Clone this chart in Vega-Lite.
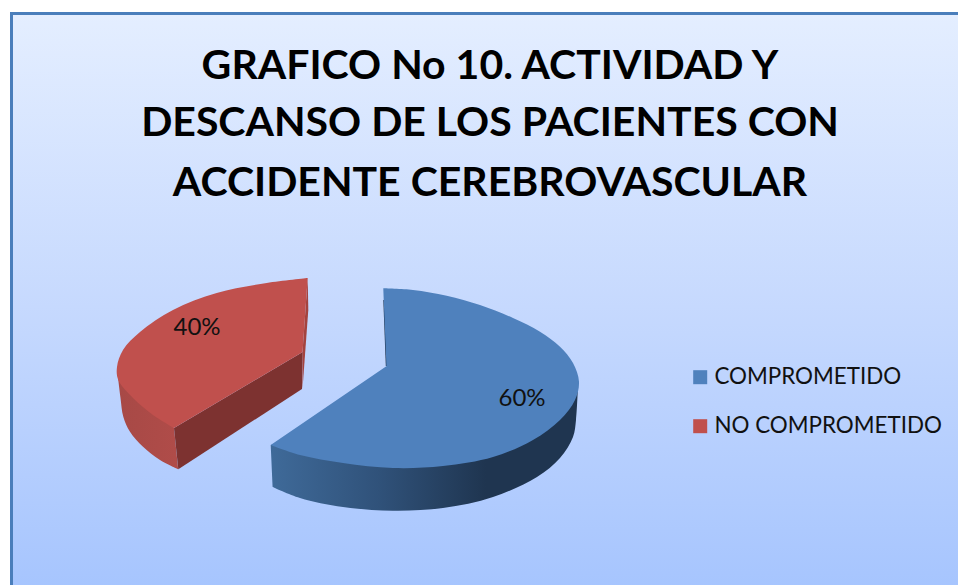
{
"$schema":"https://vega.github.io/schema/vega-lite/v6.json",
"width":958,"height":585,"padding":0,
"autosize":{"type":"fit","contains":"padding"},
"background":"white",
"view":{"stroke":null},
"datasets":{
"marco":[{"x":11.5,"x2":975,"y":13.5,"y2":600}],
"lados":[
{"parte":"rojo_lado","orden":1,"x":117,"y":367},{"parte":"rojo_lado","orden":2,"x":117,"y":367},{"parte":"rojo_lado","orden":3,"x":118.3,"y":380},{"parte":"rojo_lado","orden":4,"x":120.5,"y":398},{"parte":"rojo_lado","orden":5,"x":123.3,"y":416.7},{"parte":"rojo_lado","orden":6,"x":130,"y":431.7},{"parte":"rojo_lado","orden":7,"x":143,"y":446.7},{"parte":"rojo_lado","orden":8,"x":160,"y":460},{"parte":"rojo_lado","orden":9,"x":178.3,"y":469.3},{"parte":"rojo_lado","orden":10,"x":178.3,"y":469.3},{"parte":"rojo_lado","orden":11,"x":174,"y":428},{"parte":"rojo_lado","orden":12,"x":174,"y":428},
{"parte":"azul_lado","orden":1,"x":270.7,"y":445},{"parte":"azul_lado","orden":2,"x":270.7,"y":445},{"parte":"azul_lado","orden":3,"x":272.7,"y":487},{"parte":"azul_lado","orden":4,"x":272.7,"y":487},{"parte":"azul_lado","orden":5,"x":300,"y":498},{"parte":"azul_lado","orden":6,"x":343,"y":507},{"parte":"azul_lado","orden":7,"x":393,"y":510.7},{"parte":"azul_lado","orden":8,"x":443,"y":508},{"parte":"azul_lado","orden":9,"x":493,"y":497},{"parte":"azul_lado","orden":10,"x":537,"y":477},{"parte":"azul_lado","orden":11,"x":560,"y":458},{"parte":"azul_lado","orden":12,"x":573,"y":437},{"parte":"azul_lado","orden":13,"x":576,"y":420},{"parte":"azul_lado","orden":14,"x":578,"y":385},{"parte":"azul_lado","orden":15,"x":578,"y":385}
],
"corte":[
{"parte":"rojo_corte","orden":1,"x":174,"y":428},{"parte":"rojo_corte","orden":2,"x":302.7,"y":352},{"parte":"rojo_corte","orden":3,"x":302,"y":389},{"parte":"rojo_corte","orden":4,"x":178.3,"y":469.3}
],
"sliverRojo":[
{"parte":"rojo_borde","orden":1,"x":307.7,"y":278},{"parte":"rojo_borde","orden":2,"x":308.3,"y":310},{"parte":"rojo_borde","orden":3,"x":302.5,"y":389},{"parte":"rojo_borde","orden":4,"x":302.5,"y":352}
],
"sliverAzul":[
{"parte":"azul_borde","orden":1,"x":383.3,"y":300},{"parte":"azul_borde","orden":2,"x":385.5,"y":300},{"parte":"azul_borde","orden":3,"x":388.5,"y":366},{"parte":"azul_borde","orden":4,"x":385.8,"y":366}
],
"caras":[
{"categoria":"NO COMPROMETIDO","orden":1,"x":302.7,"y":352},{"categoria":"NO COMPROMETIDO","orden":2,"x":302.7,"y":352},{"categoria":"NO COMPROMETIDO","orden":3,"x":307.7,"y":278},{"categoria":"NO COMPROMETIDO","orden":4,"x":307.7,"y":278},{"categoria":"NO COMPROMETIDO","orden":5,"x":266.7,"y":283},{"categoria":"NO COMPROMETIDO","orden":6,"x":216.7,"y":293},{"categoria":"NO COMPROMETIDO","orden":7,"x":173,"y":310},{"categoria":"NO COMPROMETIDO","orden":8,"x":140,"y":332},{"categoria":"NO COMPROMETIDO","orden":9,"x":123,"y":350},{"categoria":"NO COMPROMETIDO","orden":10,"x":117,"y":367},{"categoria":"NO COMPROMETIDO","orden":11,"x":118.3,"y":380},{"categoria":"NO COMPROMETIDO","orden":12,"x":133,"y":398},{"categoria":"NO COMPROMETIDO","orden":13,"x":153,"y":415},{"categoria":"NO COMPROMETIDO","orden":14,"x":174,"y":428},{"categoria":"NO COMPROMETIDO","orden":15,"x":174,"y":428},
{"categoria":"COMPROMETIDO","orden":1,"x":386.7,"y":366},{"categoria":"COMPROMETIDO","orden":2,"x":386.7,"y":366},{"categoria":"COMPROMETIDO","orden":3,"x":383.3,"y":288.3},{"categoria":"COMPROMETIDO","orden":4,"x":383.3,"y":288.3},{"categoria":"COMPROMETIDO","orden":5,"x":413,"y":290},{"categoria":"COMPROMETIDO","orden":6,"x":446.7,"y":295.7},{"categoria":"COMPROMETIDO","orden":7,"x":480,"y":305},{"categoria":"COMPROMETIDO","orden":8,"x":513,"y":318},{"categoria":"COMPROMETIDO","orden":9,"x":540,"y":331.7},{"categoria":"COMPROMETIDO","orden":10,"x":560,"y":346.7},{"categoria":"COMPROMETIDO","orden":11,"x":573,"y":363},{"categoria":"COMPROMETIDO","orden":12,"x":579,"y":381.7},{"categoria":"COMPROMETIDO","orden":13,"x":575,"y":400},{"categoria":"COMPROMETIDO","orden":14,"x":560,"y":420},{"categoria":"COMPROMETIDO","orden":15,"x":533,"y":440},{"categoria":"COMPROMETIDO","orden":16,"x":493,"y":457},{"categoria":"COMPROMETIDO","orden":17,"x":443,"y":466},{"categoria":"COMPROMETIDO","orden":18,"x":393,"y":468},{"categoria":"COMPROMETIDO","orden":19,"x":343,"y":463},{"categoria":"COMPROMETIDO","orden":20,"x":300,"y":455},{"categoria":"COMPROMETIDO","orden":21,"x":270.7,"y":445},{"categoria":"COMPROMETIDO","orden":22,"x":270.7,"y":445}
],
"titulo":[
{"linea":"GRAFICO No 10. ACTIVIDAD Y","x":490,"y":79},
{"linea":"DESCANSO DE LOS PACIENTES CON","x":490,"y":136},
{"linea":"ACCIDENTE CEREBROVASCULAR","x":490,"y":196}
],
"etiquetas":[
{"categoria":"COMPROMETIDO","porcentaje":"60%","x":522,"y":406},
{"categoria":"NO COMPROMETIDO","porcentaje":"40%","x":197,"y":335}
]
},
"encoding":{
"x":{"field":"x","type":"quantitative","scale":{"domain":[0,958],"nice":false,"zero":false},"axis":null},
"y":{"field":"y","type":"quantitative","scale":{"domain":[585,0],"nice":false,"zero":false},"axis":null}
},
"layer":[
{"data":{"name":"marco"},
"mark":{"type":"rect","clip":true,"stroke":"#4a7ebb","strokeWidth":3,"fill":{"gradient":"linear","x1":0,"y1":0,"x2":0,"y2":1,"stops":[{"offset":0,"color":"#e4eeff"},{"offset":0.5,"color":"#c6d9fe"},{"offset":1,"color":"#a5c4fe"}]}},
"encoding":{"x2":{"field":"x2"},"y2":{"field":"y2"}}},
{"data":{"name":"lados"},"transform":[{"filter":"datum.parte==='rojo_lado'"}],
"mark":{"type":"line","interpolate":"catmull-rom","stroke":"transparent","fill":{"gradient":"linear","x1":0,"y1":0,"x2":1,"y2":0,"stops":[{"offset":0,"color":"#a74946"},{"offset":1,"color":"#b04c49"}]}},
"encoding":{"order":{"field":"orden"}}},
{"data":{"name":"corte"},
"mark":{"type":"line","stroke":"transparent","fill":"#7d3230"},
"encoding":{"order":{"field":"orden"}}},
{"data":{"name":"sliverRojo"},
"mark":{"type":"line","stroke":"transparent","fill":"#a4433f"},
"encoding":{"order":{"field":"orden"}}},
{"data":{"name":"sliverAzul"},
"mark":{"type":"line","stroke":"transparent","fill":"#1f3550"},
"encoding":{"order":{"field":"orden"}}},
{"data":{"name":"lados"},"transform":[{"filter":"datum.parte==='azul_lado'"}],
"mark":{"type":"line","interpolate":"catmull-rom","stroke":"transparent","fill":{"gradient":"linear","x1":0,"y1":0,"x2":1,"y2":0,"stops":[{"offset":0,"color":"#3f6a99"},{"offset":0.35,"color":"#30527a"},{"offset":0.7,"color":"#1f3550"},{"offset":1,"color":"#1f3550"}]}},
"encoding":{"order":{"field":"orden"}}},
{"data":{"name":"caras"},
"mark":{"type":"line","interpolate":"catmull-rom","stroke":"transparent"},
"encoding":{
"order":{"field":"orden"},
"fill":{"field":"categoria","type":"nominal","scale":{"domain":["COMPROMETIDO","NO COMPROMETIDO"],"range":["#4f81bd","#c0504d"]},
"legend":{"title":null,"orient":"none","legendX":689,"legendY":366,"symbolType":"square","symbolSize":196,"symbolStrokeWidth":0,"labelFont":"Lato","labelFontSize":22.4,"labelColor":"#111","labelOffset":3,"rowPadding":26,"labelLimit":300}}
}},
{"data":{"name":"etiquetas"},
"mark":{"type":"text","font":"Lato","fontSize":24,"color":"#111","align":"center","baseline":"alphabetic"},
"encoding":{"text":{"field":"porcentaje"}}},
{"data":{"name":"titulo"},
"mark":{"type":"text","font":"Lato","fontSize":41,"fontWeight":"bold","color":"#000","align":"center","baseline":"alphabetic"},
"encoding":{"text":{"field":"linea"}}}
]
}
